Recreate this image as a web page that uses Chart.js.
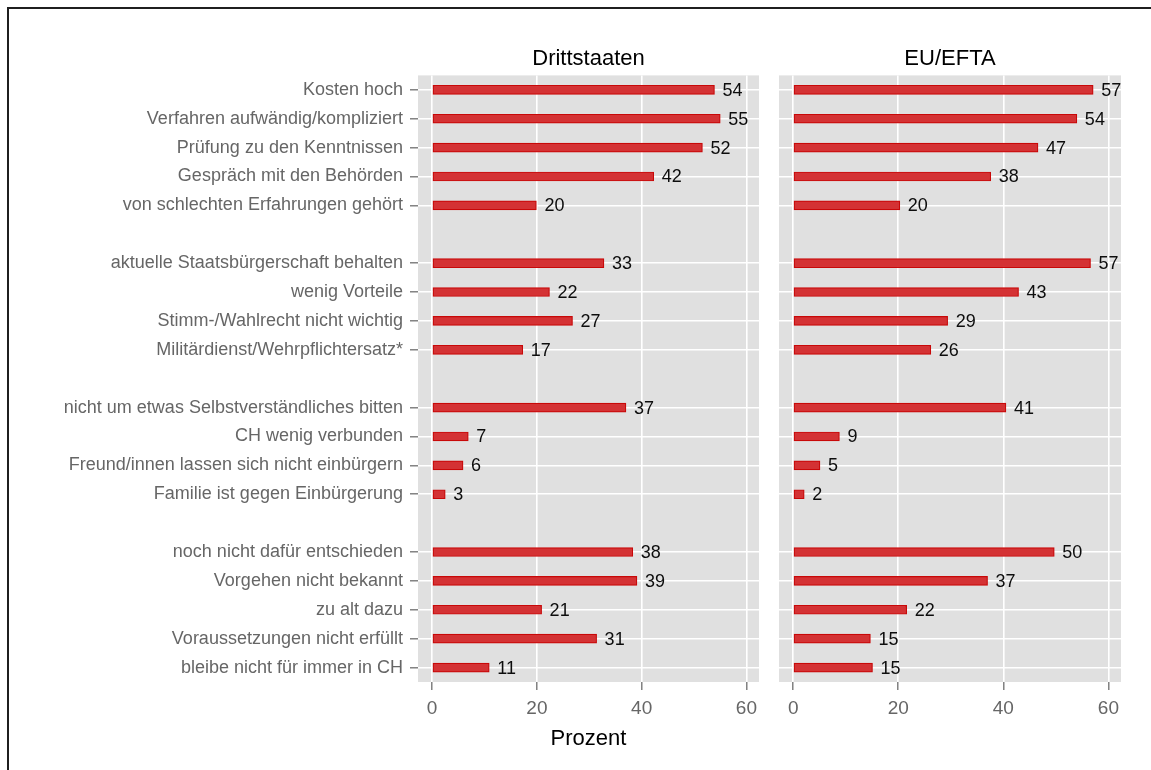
<!DOCTYPE html>
<html>
<head>
<meta charset="utf-8">
<title>Gründe gegen Einbürgerung</title>
<script src="https://cdn.jsdelivr.net/npm/chart.js@4.4.1/dist/chart.umd.min.js"></script>
<style>
  body { margin: 0; background: #fff; width: 1151px; height: 770px; overflow: hidden; position: relative; }
  #frame { position: absolute; left: 7px; top: 7px; width: 1200px; height: 800px; border-top: 2px solid #1f1f1f; border-left: 2px solid #1f1f1f; }
  #left { position: absolute; left: 0; top: 0; }
  #right { position: absolute; left: 770px; top: 0; }
</style>
</head>
<body>
<div id="frame"></div>
<canvas id="left" width="770" height="770"></canvas>
<canvas id="right" width="381" height="770"></canvas>
<script>
// categories, '' = spacer row between groups
const categories = [
  "Kosten hoch",
  "Verfahren aufwändig/kompliziert",
  "Prüfung zu den Kenntnissen",
  "Gespräch mit den Behörden",
  "von schlechten Erfahrungen gehört",
  "",
  "aktuelle Staatsbürgerschaft behalten",
  "wenig Vorteile",
  "Stimm-/Wahlrecht nicht wichtig",
  "Militärdienst/Wehrpflichtersatz*",
  "",
  "nicht um etwas Selbstverständliches bitten",
  "CH wenig verbunden",
  "Freund/innen lassen sich nicht einbürgern",
  "Familie ist gegen Einbürgerung",
  "",
  "noch nicht dafür entschieden",
  "Vorgehen nicht bekannt",
  "zu alt dazu",
  "Voraussetzungen nicht erfüllt",
  "bleibe nicht für immer in CH"
];

const drittstaaten = [53.9, 55.0, 51.6, 42.3, 19.9, null, 32.8, 22.4, 26.8, 17.3, null,
  37.0, 6.9, 5.9, 2.5, null, 38.3, 39.1, 20.9, 31.4, 10.9];
const euEfta = [57.1, 54.0, 46.6, 37.6, 20.3, null, 56.6, 42.9, 29.4, 26.2, null,
  40.5, 8.8, 5.1, 2.1, null, 49.7, 37.0, 21.6, 14.7, 15.1];

const xTicks = [0, 20, 40, 60];
const panelTitles = ["Drittstaaten", "EU/EFTA"];
const xTitle = "Prozent";

Chart.defaults.font.family = "'Liberation Sans', Arial, sans-serif";
Chart.defaults.animation = false;

// grey panel background
const panelBg = {
  id: "panelBg",
  beforeDraw(chart) {
    const a = chart.chartArea;
    const ctx = chart.ctx;
    ctx.save();
    ctx.fillStyle = "#e0e0e0";
    ctx.fillRect(a.left, a.top, a.right - a.left, a.bottom - a.top);
    ctx.restore();
  }
};

// numbers to the right of each bar
const valueLabels = {
  id: "valueLabels",
  afterDatasetsDraw(chart) {
    const ctx = chart.ctx;
    const ds = chart.data.datasets[0];
    const meta = chart.getDatasetMeta(0);
    ctx.save();
    ctx.font = "18px 'Liberation Sans', Arial, sans-serif";
    ctx.fillStyle = "#0d0d0d";
    ctx.textAlign = "left";
    ctx.textBaseline = "middle";
    meta.data.forEach((bar, i) => {
      const v = ds.data[i];
      if (v === null) return;
      ctx.fillText(String(Math.round(v)), bar.x + 8, bar.y + 1);
    });
    ctx.restore();
  }
};

function makeChart(canvasId, values, title, showLabels) {
  const gapColor = (col) => (c) => categories[c.index] === "" ? "rgba(0,0,0,0)" : col;

  return new Chart(document.getElementById(canvasId), {
    type: "bar",
    data: {
      labels: categories,
      datasets: [{
        data: values,
        backgroundColor: "#d43234",
        borderColor: "#c80808",
        borderWidth: 1.2,
        borderSkipped: false,
        barThickness: 9
      }]
    },
    options: {
      indexAxis: "y",
      responsive: false,
      events: [],
      layout: {
        padding: showLabels ? { left: 0, right: 11, top: 46, bottom: 0 } : { left: 9, right: 30, top: 46, bottom: 0 }
      },
      plugins: {
        legend: { display: false },
        tooltip: { enabled: false },
        title: {
          display: true,
          text: title,
          fullSize: false,
          color: "#000",
          font: { size: 22, weight: "normal", lineHeight: 1.2 },
          padding: { top: 0, bottom: 3 }
        }
      },
      scales: {
        x: {
          min: -2.7,
          max: 62.4,
          afterBuildTicks: (s) => { s.ticks = xTicks.map((v) => ({ value: v })); },
          afterFit: (s) => { s.height = 88; },
          border: { display: false },
          grid: {
            color: "#ffffff",
            lineWidth: 1.6,
            tickColor: "#6e6e6e",
            tickWidth: 1.3,
            tickLength: 8
          },
          ticks: {
            color: "#666",
            font: { size: 19 },
            padding: 7
          },
          title: {
            display: showLabels,
            text: xTitle,
            color: "#000",
            font: { size: 22 },
            padding: { top: 0, bottom: 18 }
          }
        },
        y: {
          offset: true,
          afterFit: (s) => { s.width = showLabels ? 418 : 0; },
          border: { display: false },
          grid: {
            offset: false,
            color: gapColor("#ffffff"),
            lineWidth: 1.6,
            drawTicks: showLabels,
            tickColor: gapColor("#6e6e6e"),
            tickWidth: 1.3,
            tickLength: 8
          },
          ticks: {
            display: showLabels,
            autoSkip: false,
            color: "#666",
            font: { size: 18 },
            padding: 7
          }
        }
      }
    },
    plugins: [panelBg, valueLabels]
  });
}

makeChart("left", drittstaaten, panelTitles[0], true);
makeChart("right", euEfta, panelTitles[1], false);
</script>
</body>
</html>
